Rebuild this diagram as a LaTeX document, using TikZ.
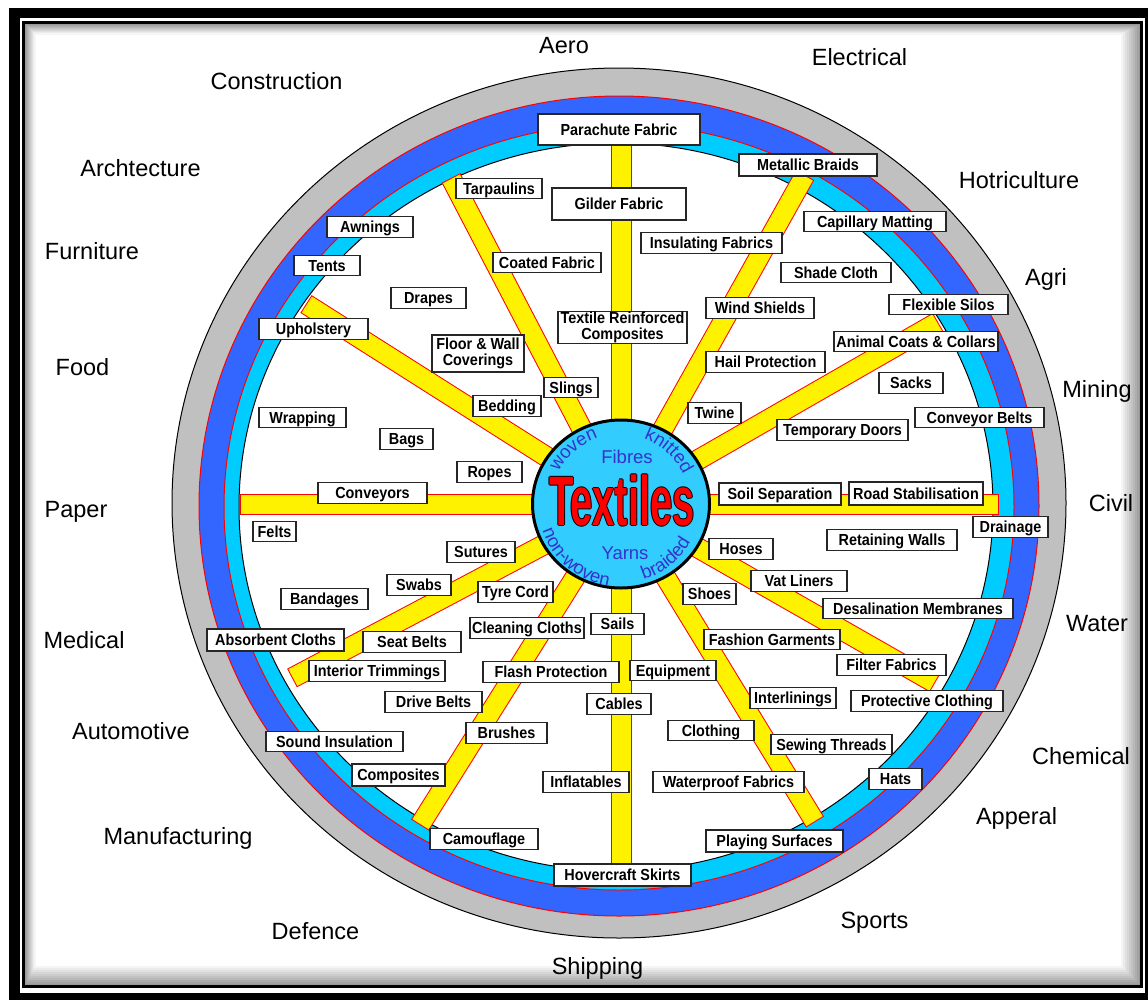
\documentclass[tikz,border=0pt]{standalone}
\usepackage{graphicx}
\usepackage{fontspec}
\setmainfont{Liberation Sans}
\newfontfamily\boxfont{Liberation Sans}[FakeStretch=0.9]
\usetikzlibrary{shapes.geometric,decorations.text}

\definecolor{ringgray}{RGB}{192,192,192}
\definecolor{ringblue}{RGB}{51,102,255}
\definecolor{ringcyan}{RGB}{0,204,255}
\definecolor{hubcyan}{RGB}{51,204,255}
\definecolor{wordblue}{RGB}{51,51,204}

\newcommand\wordfont{\fontsize{18.5}{20}\selectfont\color{wordblue}}
\newcommand\outlined[1]{\leavevmode\rlap{\kern-1.5pt\textcolor{black}{#1}}\rlap{\kern1.5pt\textcolor{black}{#1}}\rlap{\raisebox{1pt}{\textcolor{black}{#1}}}\rlap{\raisebox{-1pt}{\textcolor{black}{#1}}}\textcolor{red}{#1}}

\tikzset{
    field/.style={inner sep=0pt, text height=17pt, text depth=0pt, font=\fontsize{23.5}{26}\selectfont},
    lbl/.style={draw=black!85, line width=1.1pt, fill=white, inner xsep=1pt, inner ysep=4.5pt,
        text height=11.5pt, text depth=0pt, minimum height=20.5pt, font=\boxfont\bfseries\fontsize{16}{16}\selectfont},
    lbltwo/.style={draw=black!85, line width=1.1pt, fill=white, inner xsep=1pt, inner ysep=0.5pt,
        align=center, font=\boxfont\bfseries\fontsize{16}{15.5}\selectfont},
    spokeedge/.style={red, line width=21pt},
    spokefill/.style={yellow, line width=19pt, shorten >=1pt},
    hubdisc/.style={ellipse, draw=black, line width=3pt, fill=hubcyan, minimum width=177pt, minimum height=168pt, inner sep=0pt},
    hubword/.style={inner sep=0pt, font=\wordfont},
    title/.style={inner sep=0pt, font=\fontsize{70}{70}\selectfont\bfseries}
}

\begin{document}
\begin{tikzpicture}[x=1pt,y=-1pt]
    \useasboundingbox (0,0) rectangle (1148,999);
    \fill[white] (0,0) rectangle (1148,999);

    \foreach \i in {0,...,9} {
        \pgfmathtruncatemacro\shadelevel{40-4*\i}
        \draw[black!\shadelevel, line width=2pt] (25.5+\i,24.5+\i) rectangle (1139.5-2*\i,984.5-2*\i);
    }
    \draw[line width=3pt] (23.5,22.5) rectangle (1141.5,986.5);
    \draw[line width=10.5pt] (14.5,13) rectangle (1150.5,998.5);

    \filldraw[fill=ringgray, draw=black, line width=1pt] (619,503) ellipse [x radius=447, y radius=435];
    \filldraw[fill=ringblue, draw=red, line width=1pt] (619,506) ellipse [x radius=420, y radius=410];
    \filldraw[fill=ringcyan, draw=red, line width=1pt] (619,507) ellipse [x radius=395, y radius=383];
    \filldraw[fill=white, draw=black, line width=1pt] (616,507) ellipse [x radius=377, y radius=364];

    \coordinate (Center) at (621,504);
    \coordinate (Sp1) at (805,175);
    \coordinate (Sp2) at (938,322);
    \coordinate (Sp3) at (999,504);
    \coordinate (Sp4) at (935,683);
    \coordinate (Sp5) at (815,822);
    \coordinate (Sp6) at (621,868);
    \coordinate (Sp7) at (420,825);
    \coordinate (Sp8) at (292,678);
    \coordinate (Sp9) at (240,504);
    \coordinate (Sp10) at (306,304);
    \coordinate (Sp11) at (451,178);
    \coordinate (Sp12) at (621,140);
    \foreach \h in {1,...,12} {
        \draw[spokeedge] (Center) -- (Sp\h);
        \draw[spokefill] (Center) -- (Sp\h);
    }

    \node[hubdisc] at (Center) (Hub) {};
    \node[title] at (622,500) (Title) {\scalebox{0.57}[1]{\outlined{Textiles}}};
    \node[hubword] at (627,456.5) (Fibres) {Fibres};
    \node[hubword] at (625,553.5) (Yarns) {Yarns};
    \path[decorate, decoration={text along path, text align=center, text={|\wordfont|woven}}]
        (Hub.center) ++(-171:70) arc[start angle=-171, end angle=-91, radius=70];
    \path[decorate, decoration={text along path, text align=center, text={|\wordfont|knitted}}]
        (Hub.center) ++(-88:69) arc[start angle=-88, end angle=-8, radius=69];
    \path[decorate, decoration={text along path, text align=center, text={|\wordfont|non-woven}}]
        (Hub.center) ++(-185:83) arc[start angle=-185, end angle=-275, radius=83];
    \path[decorate, decoration={text along path, text align=center, text={|\wordfont|braided}}]
        (Hub.center) ++(-264:79) arc[start angle=-264, end angle=-354, radius=79];

    \node[lbl, minimum width=162pt, minimum height=31pt] at (619,129.5) (Parachute) {Parachute Fabric};
    \node[lbl, minimum width=86pt] at (499,188.5) (Tarpaulins) {Tarpaulins};
    \node[lbl, minimum width=134pt, minimum height=32pt] at (619,204) (Gilder) {Gilder Fabric};
    \node[lbl, minimum width=141pt] at (711.5,243) (Insulating) {Insulating Fabrics};
    \node[lbl, minimum width=108pt] at (547,262.5) (Coated) {Coated Fabric};
    \node[lbl, minimum width=75pt] at (428.5,298) (Drapes) {Drapes};
    \node[lbltwo, minimum width=129pt, minimum height=31pt] at (622.5,327.5) (Reinforced) {Textile Reinforced\\Composites};
    \node[lbl, minimum width=108pt] at (760,308) (WindShields) {Wind Shields};
    \node[lbltwo, minimum width=92pt, minimum height=37pt] at (478,353.5) (FloorWall) {Floor \& Wall\\Coverings};
    \node[lbl, minimum width=138pt, minimum height=22pt] at (808,165) (Metallic) {Metallic Braids};
    \node[lbl, minimum width=142pt] at (875,221.5) (Capillary) {Capillary Matting};
    \node[lbl, minimum width=110pt] at (836,272.5) (Shade) {Shade Cloth};
    \node[lbl, minimum width=119pt] at (948.5,304.5) (Silos) {Flexible Silos};
    \node[lbl, minimum width=164pt] at (916,341.5) (AnimalCoats) {Animal Coats \& Collars};
    \node[lbl, minimum width=119pt] at (765.5,362) (Hail) {Hail Protection};
    \node[lbl, minimum width=64pt] at (911,383) (Sacks) {Sacks};
    \node[lbl, minimum width=53pt] at (714.5,413) (Twine) {Twine};
    \node[lbl, minimum width=129pt] at (979.5,417.5) (ConvBelts) {Conveyor Belts};
    \node[lbl, minimum width=131pt] at (842.5,430) (TempDoors) {Temporary Doors};
    \node[lbl, minimum width=122pt, minimum height=22pt] at (780,494) (SoilSep) {Soil Separation};
    \node[lbl, minimum width=134pt, minimum height=23pt] at (916,493.5) (RoadStab) {Road Stabilisation};
    \node[lbl, minimum width=75pt] at (1010.5,527) (Drainage) {Drainage};
    \node[lbl, minimum width=130pt] at (892,540) (Retaining) {Retaining Walls};
    \node[lbl, minimum width=64pt] at (741,549) (Hoses) {Hoses};
    \node[lbl, minimum width=96pt] at (799,581) (VatLiners) {Vat Liners};
    \node[lbl, minimum width=190pt] at (918,608.5) (Desalination) {Desalination Membranes};
    \node[lbl, minimum width=53pt] at (709.5,594) (Shoes) {Shoes};
    \node[lbl, minimum width=136pt] at (772,639.5) (Fashion) {Fashion Garments};
    \node[lbl, minimum width=109pt] at (891.5,665) (Filter) {Filter Fabrics};
    \node[lbl, minimum width=152pt] at (927,701) (Protective) {Protective Clothing};
    \node[lbl, minimum width=86pt] at (793,698) (Interlinings) {Interlinings};
    \node[lbl, minimum width=121pt] at (831.5,744.5) (Sewing) {Sewing Threads};
    \node[lbl, minimum width=53pt] at (895.5,779) (Hats) {Hats};
    \node[lbl, minimum width=86pt] at (711,730.5) (Clothing) {Clothing};
    \node[lbl, minimum width=151pt] at (728.5,782) (Waterproof) {Waterproof Fabrics};
    \node[lbl, minimum width=137pt, minimum height=22pt] at (774.5,841) (Playing) {Playing Surfaces};
    \node[lbl, minimum width=137pt, minimum height=22pt] at (622.5,875) (Hovercraft) {Hovercraft Skirts};
    \node[lbl, minimum width=86pt] at (586,782) (Inflatables) {Inflatables};
    \node[lbl, minimum width=64pt] at (619,704) (Cables) {Cables};
    \node[lbl, minimum width=86pt] at (673,670.5) (Equipment) {Equipment};
    \node[lbl, minimum width=136pt] at (551,672) (Flash) {Flash Protection};
    \node[lbl, minimum width=53pt] at (617.5,624) (Sails) {Sails};
    \node[lbl, minimum width=114pt] at (527,628) (Cleaning) {Cleaning Cloths};
    \node[lbl, minimum width=75pt] at (515.5,592) (TyreCord) {Tyre Cord};
    \node[lbl, minimum width=68pt] at (481,552) (Sutures) {Sutures};
    \node[lbl, minimum width=64pt] at (419,585) (Swabs) {Swabs};
    \node[lbl, minimum width=98pt] at (412,642) (SeatBelts) {Seat Belts};
    \node[lbl, minimum width=136pt] at (377,671) (Interior) {Interior Trimmings};
    \node[lbl, minimum width=97pt] at (433.5,702) (DriveBelts) {Drive Belts};
    \node[lbl, minimum width=81pt] at (506.5,733) (Brushes) {Brushes};
    \node[lbl, minimum width=137pt] at (334.5,741.5) (Sound) {Sound Insulation};
    \node[lbl, minimum width=93pt, minimum height=22pt] at (398.5,775) (Composites) {Composites};
    \node[lbl, minimum width=108pt] at (484,839) (Camouflage) {Camouflage};
    \node[lbl, minimum width=137pt, minimum height=22pt] at (275.5,640) (Absorbent) {Absorbent Cloths};
    \node[lbl, minimum width=87pt] at (324.5,599) (Bandages) {Bandages};
    \node[lbl, minimum width=43pt] at (274.5,531.5) (Felts) {Felts};
    \node[lbl, minimum width=109pt] at (372.5,493) (Conveyors) {Conveyors};
    \node[lbl, minimum width=65pt] at (489.5,472) (Ropes) {Ropes};
    \node[lbl, minimum width=53pt] at (406.5,439) (Bags) {Bags};
    \node[lbl, minimum width=87pt] at (302.5,417.5) (Wrapping) {Wrapping};
    \node[lbl, minimum width=68pt] at (507,406) (Bedding) {Bedding};
    \node[lbl, minimum width=54pt] at (571,387.5) (Slings) {Slings};
    \node[lbl, minimum width=109pt] at (313.5,329) (Upholstery) {Upholstery};
    \node[lbl, minimum width=66pt] at (327,265.5) (Tents) {Tents};
    \node[lbl, minimum width=86pt] at (370,227) (Awnings) {Awnings};

    \node[field] at (564,45.4) (Aero) {Aero};
    \node[field] at (859.5,57.4) (Electrical) {Electrical};
    \node[field] at (276.5,81.4) (Construction) {Construction};
    \node[field] at (140.5,168.4) (Archtecture) {Archtecture};
    \node[field] at (92,251.4) (Furniture) {Furniture};
    \node[field] at (1019,180.4) (Hotriculture) {Hotriculture};
    \node[field] at (1046,277.4) (Agri) {Agri};
    \node[field] at (82.5,367.4) (Food) {Food};
    \node[field] at (1097,389.4) (Mining) {Mining};
    \node[field] at (76,509.4) (Paper) {Paper};
    \node[field] at (1111,503.4) (Civil) {Civil};
    \node[field] at (1097,623.4) (Water) {Water};
    \node[field] at (84,640.4) (Medical) {Medical};
    \node[field] at (131,731.4) (Automotive) {Automotive};
    \node[field] at (1081,756.4) (Chemical) {Chemical};
    \node[field] at (1016.5,816.4) (Apperal) {Apperal};
    \node[field] at (178,836.4) (Manufacturing) {Manufacturing};
    \node[field] at (874.5,920.4) (Sports) {Sports};
    \node[field] at (315.5,931.4) (Defence) {Defence};
    \node[field] at (597.5,966.4) (Shipping) {Shipping};
\end{tikzpicture}
\end{document}
